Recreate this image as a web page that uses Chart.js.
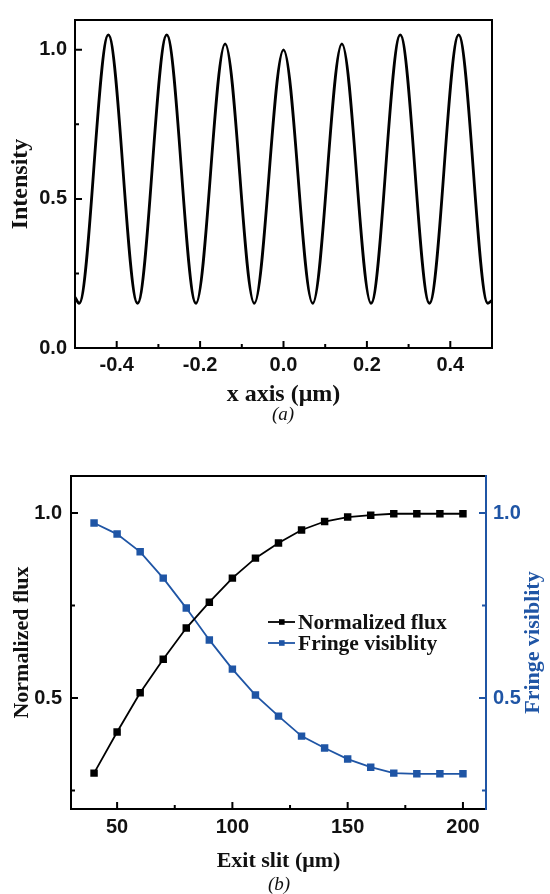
<!DOCTYPE html>
<html>
<head>
<meta charset="utf-8">
<script src="https://cdn.jsdelivr.net/npm/chart.js@4.4.0/dist/chart.umd.min.js"></script>
<style>
  body { margin: 0; background: #fff; width: 550px; height: 894px; position: relative; overflow: hidden; }
  canvas { position: absolute; left: 0; }
  #fringe { top: 0; }
  #slit { top: 440px; }
  .cap { position: absolute; width: 60px; text-align: center; font: italic 19px "Liberation Serif", serif; color: #111; }
</style>
</head>
<body>
<canvas id="fringe" width="550" height="410"></canvas>
<canvas id="slit" width="550" height="440"></canvas>
<div class="cap" style="left:253px; top:403px">(a)</div>
<div class="cap" style="left:249px; top:873px">(b)</div>
<script>
// (a) fringe pattern (peaks and minima)
const xPos = [-0.5, -0.49, -0.42, -0.35, -0.28, -0.21, -0.14, -0.07, 0, 0.07, 0.14, 0.21, 0.28, 0.35, 0.42, 0.49, 0.5];
const intensity = [0.17, 0.15, 1.05, 0.15, 1.05, 0.15, 1.02, 0.15, 1.0, 0.15, 1.02, 0.15, 1.05, 0.15, 1.05, 0.15, 0.16];
const xTicksA = [-0.4, -0.2, 0, 0.2, 0.4];
const xMinorA = [-0.3, -0.1, 0.1, 0.3];
const yTicksA = [0, 0.5, 1.0];
const yMinorA = [0.25, 0.75];

// (b) flux and visibility vs exit slit
const slit = [40, 50, 60, 70, 80, 90, 100, 110, 120, 130, 140, 150, 160, 170, 180, 190, 200];
const flux = [0.297, 0.408, 0.514, 0.605, 0.689, 0.759, 0.824, 0.878, 0.919, 0.954, 0.977, 0.989, 0.994, 0.998, 0.998, 0.998, 0.998];
const visibility = [0.973, 0.943, 0.895, 0.824, 0.743, 0.657, 0.578, 0.508, 0.451, 0.397, 0.365, 0.335, 0.313, 0.297, 0.295, 0.295, 0.295];
const xTicksB = [50, 100, 150, 200];
const xMinorB = [75, 125, 175];
const yTicksB = [0.5, 1.0];
const yMinorB = [0.25, 0.75];

const BLUE = '#1f55a5';
const tickFont = { family: "'Liberation Sans', Arial", size: 20, weight: 'bold' };
const titleFontA = { family: "'Liberation Serif', 'Times New Roman'", size: 24, weight: 'bold' };
const titleFontB = { family: "'Liberation Serif', 'Times New Roman'", size: 22, weight: 'bold' };

function setTicks(vals) {
  return scale => { scale.ticks = vals.map(v => ({ value: v })); };
}

// frame + inward tick marks
function marks(list, frame) {
  return {
    id: 'marks',
    afterDraw(chart) {
      const { ctx, chartArea: a } = chart;
      ctx.save();
      ctx.lineWidth = 2;
      frame.forEach(f => {
        ctx.strokeStyle = f.color;
        ctx.beginPath();
        if (f.side === 'left') { ctx.moveTo(a.left, a.top - 1); ctx.lineTo(a.left, a.bottom + 1); }
        if (f.side === 'right') { ctx.moveTo(a.right, a.top - 1); ctx.lineTo(a.right, a.bottom + 1); }
        if (f.side === 'top') { ctx.moveTo(a.left - 1, a.top); ctx.lineTo(a.right + 1, a.top); }
        if (f.side === 'bottom') { ctx.moveTo(a.left - 1, a.bottom); ctx.lineTo(a.right + 1, a.bottom); }
        ctx.stroke();
      });
      list.forEach(m => {
        const s = chart.scales[m.scale];
        ctx.strokeStyle = m.color;
        ctx.beginPath();
        const draw = (v, len) => {
          const p = s.getPixelForValue(v);
          if (m.side === 'bottom') { ctx.moveTo(p, a.bottom); ctx.lineTo(p, a.bottom - len); }
          if (m.side === 'left') { ctx.moveTo(a.left, p); ctx.lineTo(a.left + len, p); }
          if (m.side === 'right') { ctx.moveTo(a.right, p); ctx.lineTo(a.right - len, p); }
        };
        m.major.forEach(v => draw(v, 7));
        m.minor.forEach(v => draw(v, 4));
        ctx.stroke();
      });
      ctx.restore();
    }
  };
}

new Chart(document.getElementById('fringe'), {
  type: 'line',
  data: {
    datasets: [{
      data: xPos.map((x, i) => ({ x: x, y: intensity[i] })),
      borderColor: '#000',
      borderWidth: 2.8,
      pointRadius: 0,
      cubicInterpolationMode: 'monotone'
    }]
  },
  options: {
    responsive: false,
    animation: false,
    devicePixelRatio: 1,
    layout: { padding: { top: 14, right: 58, left: 0, bottom: 0 } },
    plugins: { legend: { display: false }, tooltip: { enabled: false } },
    scales: {
      x: {
        type: 'linear', min: -0.5, max: 0.5,
        afterBuildTicks: setTicks(xTicksA),
        afterFit: s => { s.height = 62; },
        grid: { display: false, drawTicks: false },
        border: { display: false },
        ticks: { color: '#111', font: tickFont, padding: 5, maxRotation: 0, autoSkip: false, callback: v => v.toFixed(1) },
        title: { display: true, text: 'x axis (μm)', color: '#111', font: titleFontA, padding: { top: 0, bottom: 1 } }
      },
      y: {
        min: 0, max: 1.1,
        afterBuildTicks: setTicks(yTicksA),
        afterFit: s => { s.width = 75; },
        grid: { display: false, drawTicks: false },
        border: { display: false },
        ticks: { color: '#111', font: tickFont, padding: 8, callback: v => v.toFixed(1) },
        title: { display: true, text: 'Intensity', color: '#111', font: titleFontA, padding: { top: 6, bottom: 0 } }
      }
    }
  },
  plugins: [marks(
    [{ scale: 'x', side: 'bottom', color: '#000', major: xTicksA, minor: xMinorA },
     { scale: 'y', side: 'left', color: '#000', major: yTicksA, minor: yMinorA }],
    [{ side: 'left', color: '#000' }, { side: 'right', color: '#000' }, { side: 'top', color: '#000' }, { side: 'bottom', color: '#000' }]
  )]
});

const extras = {
  id: 'extras',
  afterDraw(chart) {
    const { ctx, chartArea: a } = chart;
    ctx.save();
    // right axis title, reads bottom to top
    ctx.font = "bold 22px 'Liberation Serif'";
    ctx.fillStyle = BLUE;
    ctx.textAlign = 'center';
    ctx.textBaseline = 'middle';
    ctx.translate(533, (a.top + a.bottom) / 2);
    ctx.rotate(-Math.PI / 2);
    ctx.fillText('Fringe visiblity', 0, 0);
    ctx.restore();

    // legend inside the plot
    ctx.save();
    ctx.font = "bold 21.5px 'Liberation Serif'";
    ctx.textAlign = 'left';
    ctx.textBaseline = 'middle';
    chart.data.datasets.forEach((ds, i) => {
      const y = 182 + i * 21;
      ctx.strokeStyle = ds.borderColor;
      ctx.fillStyle = ds.borderColor;
      ctx.lineWidth = 1.8;
      ctx.beginPath();
      ctx.moveTo(268, y);
      ctx.lineTo(295, y);
      ctx.stroke();
      ctx.fillRect(279, y - 2.8, 5.6, 5.6);
      ctx.fillStyle = '#111';
      ctx.fillText(ds.label, 298, y + 1);
    });
    ctx.restore();
  }
};

new Chart(document.getElementById('slit'), {
  type: 'line',
  data: {
    labels: slit,
    datasets: [{
      label: 'Normalized flux',
      data: slit.map((x, i) => ({ x: x, y: flux[i] })),
      borderColor: '#000',
      backgroundColor: '#000',
      borderWidth: 1.8,
      pointStyle: 'rect',
      pointRadius: 4,
      yAxisID: 'y'
    }, {
      label: 'Fringe visiblity',
      data: slit.map((x, i) => ({ x: x, y: visibility[i] })),
      borderColor: BLUE,
      backgroundColor: BLUE,
      borderWidth: 1.8,
      pointStyle: 'rect',
      pointRadius: 4,
      yAxisID: 'y1'
    }]
  },
  options: {
    responsive: false,
    animation: false,
    devicePixelRatio: 1,
    layout: { padding: { top: 36, right: 0, left: 0, bottom: 0 } },
    plugins: { legend: { display: false }, tooltip: { enabled: false } },
    scales: {
      x: {
        type: 'linear', min: 30, max: 210,
        afterBuildTicks: setTicks(xTicksB),
        afterFit: s => { s.height = 71; },
        grid: { display: false, drawTicks: false },
        border: { display: false },
        ticks: { color: '#111', font: tickFont, padding: 6, maxRotation: 0, autoSkip: false },
        title: { display: true, text: 'Exit slit (μm)', color: '#111', font: titleFontB, padding: { top: 0, bottom: 5 } }
      },
      y: {
        position: 'left', min: 0.2, max: 1.1,
        afterBuildTicks: setTicks(yTicksB),
        afterFit: s => { s.width = 71; },
        grid: { display: false, drawTicks: false },
        border: { display: false },
        ticks: { color: '#111', font: tickFont, padding: 9, callback: v => v.toFixed(1) },
        title: { display: true, text: 'Normalized flux', color: '#111', font: titleFontB, padding: { top: 9, bottom: 0 } }
      },
      y1: {
        position: 'right', min: 0.2, max: 1.1,
        afterBuildTicks: setTicks(yTicksB),
        afterFit: s => { s.width = 64; },
        grid: { display: false, drawTicks: false },
        border: { display: false },
        ticks: { color: BLUE, font: tickFont, padding: 7, callback: v => v.toFixed(1) }
      }
    }
  },
  plugins: [marks(
    [{ scale: 'x', side: 'bottom', color: '#000', major: xTicksB, minor: xMinorB },
     { scale: 'y', side: 'left', color: '#000', major: yTicksB, minor: yMinorB },
     { scale: 'y1', side: 'right', color: BLUE, major: yTicksB, minor: yMinorB }],
    [{ side: 'left', color: '#000' }, { side: 'top', color: '#000' }, { side: 'bottom', color: '#000' }, { side: 'right', color: BLUE }]
  ), extras]
});
</script>
</body>
</html>
